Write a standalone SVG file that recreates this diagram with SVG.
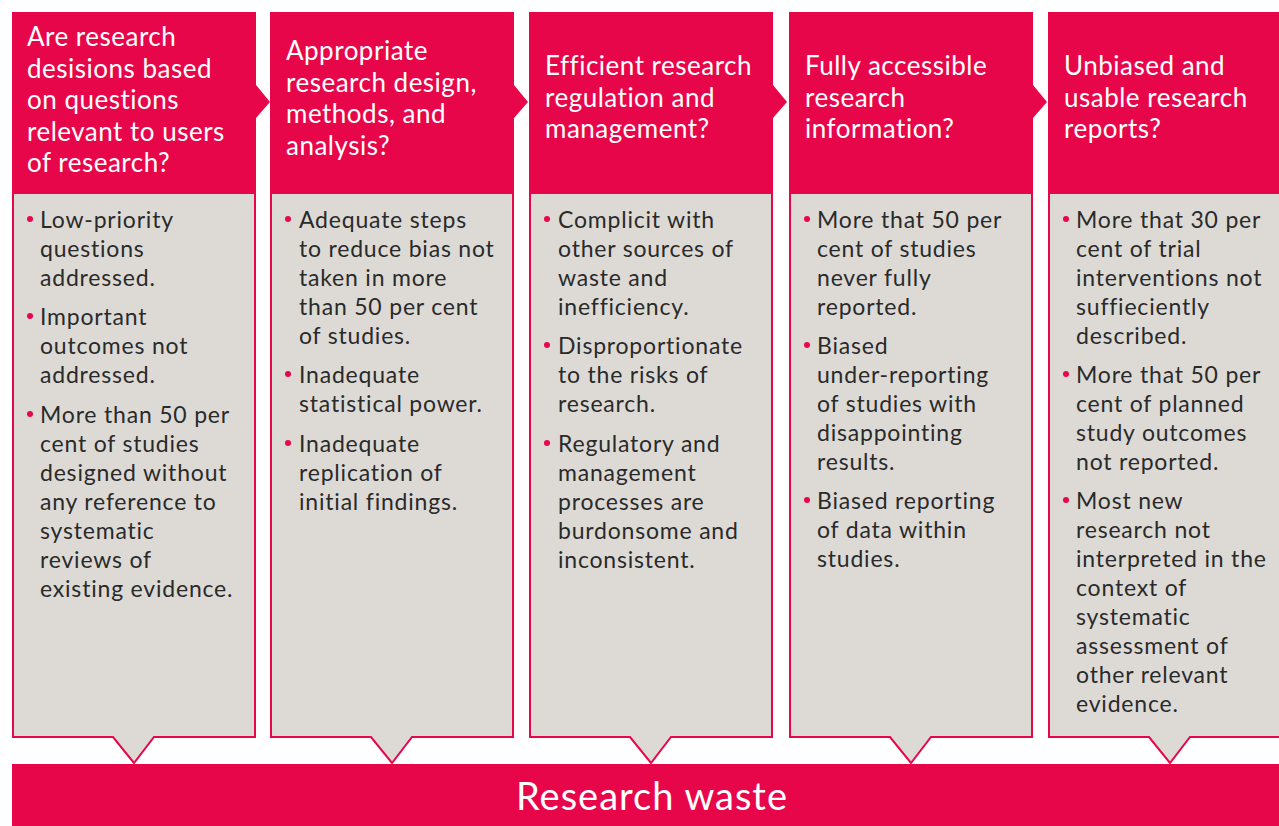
<svg xmlns="http://www.w3.org/2000/svg" width="1279" height="826" viewBox="0 0 1279 826">
  <style>
    .head { fill: #E8064A; }
    .body { fill: #DDDAD6; stroke: #E8064A; stroke-width: 2; }
    .q { font-family: Lato, "Noto Sans", sans-serif; font-size: 26px; letter-spacing: 0.5px; fill: #FFFFFF; }
    .t { font-family: Lato, "Noto Sans", sans-serif; font-size: 23px; letter-spacing: 0.8px; fill: #2A2A2A; }
    .dot { fill: #E8064A; }
    .banner { fill: #E8064A; }
    .bt { font-family: Lato, "Noto Sans", sans-serif; font-size: 38px; letter-spacing: 1px; fill: #FFFFFF; }
  </style>
  <defs>
    <!-- header block with a right-pointing chevron tab -->
    <path id="hdr" d="M0,0 H244 V73 L258,90 L244,106 V181 H0 Z"/>
    <!-- grey body box with a downward notch -->
    <path id="box" d="M1,181 H243 V725 H142 L122,751 L101,725 H1 Z"/>
  </defs>
  <rect width="1279" height="826" fill="#FFFFFF"/>

  <g id="col1" transform="translate(12,12)">
    <use href="#hdr" class="head"/>
    <use href="#box" class="body"/>
    <text class="q" x="15"><tspan y="34">Are research</tspan><tspan x="15" y="66">desisions based</tspan><tspan x="15" y="97">on questions</tspan><tspan x="15" y="129">relevant to users</tspan><tspan x="15" y="160">of research?</tspan></text>
    <circle class="dot" cx="18" cy="207" r="3"/>
    <circle class="dot" cx="18" cy="304" r="3"/>
    <circle class="dot" cx="18" cy="402" r="3"/>
    <text class="t" x="28"><tspan y="216">Low-priority</tspan><tspan x="28" y="245">questions</tspan><tspan x="28" y="274">addressed.</tspan><tspan x="28" y="313">Important</tspan><tspan x="28" y="342">outcomes not</tspan><tspan x="28" y="371">addressed.</tspan><tspan x="28" y="411">More than 50 per</tspan><tspan x="28" y="440">cent of studies</tspan><tspan x="28" y="469">designed without</tspan><tspan x="28" y="498">any reference to</tspan><tspan x="28" y="527">systematic</tspan><tspan x="28" y="556">reviews of</tspan><tspan x="28" y="585">existing evidence.</tspan></text>
  </g>

  <g id="col2" transform="translate(270,12)">
    <use href="#hdr" class="head"/>
    <use href="#box" class="body"/>
    <text class="q" x="16"><tspan y="48">Appropriate</tspan><tspan x="16" y="80">research design,</tspan><tspan x="16" y="111">methods, and</tspan><tspan x="16" y="143">analysis?</tspan></text>
    <circle class="dot" cx="18" cy="207" r="3"/>
    <circle class="dot" cx="18" cy="362" r="3"/>
    <circle class="dot" cx="18" cy="431" r="3"/>
    <text class="t" x="29"><tspan y="216">Adequate steps</tspan><tspan x="29" y="245">to reduce bias not</tspan><tspan x="29" y="274">taken in more</tspan><tspan x="29" y="303">than 50 per cent</tspan><tspan x="29" y="332">of studies.</tspan><tspan x="29" y="371">Inadequate</tspan><tspan x="29" y="400">statistical power.</tspan><tspan x="29" y="440">Inadequate</tspan><tspan x="29" y="469">replication of</tspan><tspan x="29" y="498">initial findings.</tspan></text>
  </g>

  <g id="col3" transform="translate(529,12)">
    <use href="#hdr" class="head"/>
    <use href="#box" class="body"/>
    <text class="q" x="16"><tspan y="63">Efficient research</tspan><tspan x="16" y="95">regulation and</tspan><tspan x="16" y="126">management?</tspan></text>
    <circle class="dot" cx="18" cy="207" r="3"/>
    <circle class="dot" cx="18" cy="333" r="3"/>
    <circle class="dot" cx="18" cy="431" r="3"/>
    <text class="t" x="29"><tspan y="216">Complicit with</tspan><tspan x="29" y="245">other sources of</tspan><tspan x="29" y="274">waste and</tspan><tspan x="29" y="303">inefficiency.</tspan><tspan x="29" y="342">Disproportionate</tspan><tspan x="29" y="371">to the risks of</tspan><tspan x="29" y="400">research.</tspan><tspan x="29" y="440">Regulatory and</tspan><tspan x="29" y="469">management</tspan><tspan x="29" y="498">processes are</tspan><tspan x="29" y="527">burdonsome and</tspan><tspan x="29" y="556">inconsistent.</tspan></text>
  </g>

  <g id="col4" transform="translate(789,12)">
    <use href="#hdr" class="head"/>
    <use href="#box" class="body"/>
    <text class="q" x="16"><tspan y="63">Fully accessible</tspan><tspan x="16" y="95">research</tspan><tspan x="16" y="126">information?</tspan></text>
    <circle class="dot" cx="18" cy="207" r="3"/>
    <circle class="dot" cx="18" cy="333" r="3"/>
    <circle class="dot" cx="18" cy="488" r="3"/>
    <text class="t" x="28"><tspan y="216">More that 50 per</tspan><tspan x="28" y="245">cent of studies</tspan><tspan x="28" y="274">never fully</tspan><tspan x="28" y="303">reported.</tspan><tspan x="28" y="342">Biased</tspan><tspan x="28" y="371">under-reporting</tspan><tspan x="28" y="400">of studies with</tspan><tspan x="28" y="429">disappointing</tspan><tspan x="28" y="458">results.</tspan><tspan x="28" y="497">Biased reporting</tspan><tspan x="28" y="526">of data within</tspan><tspan x="28" y="555">studies.</tspan></text>
  </g>

  <g id="col5" transform="translate(1048,12)">
    <path class="head" d="M0,0 H244 V181 H0 Z"/>
    <use href="#box" class="body"/>
    <text class="q" x="16"><tspan y="63">Unbiased and</tspan><tspan x="16" y="95">usable research</tspan><tspan x="16" y="126">reports?</tspan></text>
    <circle class="dot" cx="18" cy="207" r="3"/>
    <circle class="dot" cx="18" cy="362" r="3"/>
    <circle class="dot" cx="18" cy="488" r="3"/>
    <text class="t" x="28"><tspan y="216">More that 30 per</tspan><tspan x="28" y="245">cent of trial</tspan><tspan x="28" y="274">interventions not</tspan><tspan x="28" y="303">suffieciently</tspan><tspan x="28" y="332">described.</tspan><tspan x="28" y="371">More that 50 per</tspan><tspan x="28" y="400">cent of planned</tspan><tspan x="28" y="429">study outcomes</tspan><tspan x="28" y="458">not reported.</tspan><tspan x="28" y="497">Most new</tspan><tspan x="28" y="526">research not</tspan><tspan x="28" y="555">interpreted in the</tspan><tspan x="28" y="584">context of</tspan><tspan x="28" y="613">systematic</tspan><tspan x="28" y="642">assessment of</tspan><tspan x="28" y="671">other relevant</tspan><tspan x="28" y="700">evidence.</tspan></text>
  </g>

  <g id="waste">
    <rect class="banner" x="12" y="764" width="1267" height="62"/>
    <text class="bt" x="652" y="810" text-anchor="middle">Research waste</text>
  </g>

  <g id="connectors"/>
</svg>
